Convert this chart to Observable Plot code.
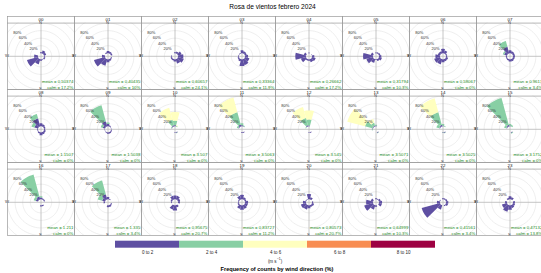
<!DOCTYPE html>
<html>
<head>
<meta charset="utf-8">
<script src="https://cdn.jsdelivr.net/npm/d3@7"></script>
<script src="https://cdn.jsdelivr.net/npm/@observablehq/plot@0.6"></script>
<style>
  html, body { margin: 0; padding: 0; background: #fff; overflow: hidden; width: 541px; height: 273px; }
  #wrap { position: relative; width: 541px; height: 273px; overflow: hidden; font-family: "Liberation Sans", Arial, sans-serif; }
  #title { position: absolute; left: 0; top: 2px; width: 545px; text-align: center; font-size: 6.6px; line-height: 9px; color: #000; }
  #main { position: absolute; left: 0; top: 0; }
  #legend { position: absolute; left: 0; top: 236px; }
  #unit { position: absolute; left: 0; top: 256px; width: 550px; text-align: center; font-size: 4.5px; line-height: 6px; color: #222; }
  #caption { position: absolute; left: 0; top: 264.5px; width: 554px; text-align: center; font-size: 5.6px; line-height: 8px; font-weight: bold; color: #000; }
</style>
</head>
<body>
<div id="wrap">
  <div id="main"></div>
  <div id="title">Rosa de vientos febrero 2024</div>
  <div id="legend"></div>
  <div id="unit">(m s<sup style="font-size:3.5px">−1</sup>)</div>
  <div id="caption">Frequency of counts by wind direction (%)</div>
</div>
<script>
// ---------------- data ----------------
const hours = ["00","01","02","03","04","05","06","07","08","09","10","11",
               "12","13","14","15","16","17","18","19","20","21","22","23"];
const directions = [0, 30, 60, 90, 120, 150, 180, 210, 240, 270, 300, 330];
const speedBins = ["0 to 2", "2 to 4", "4 to 6", "6 to 8", "8 to 10"];
const speedColors = ["#5E4FA2", "#88CFA4", "#FFFFBF", "#F88D52", "#9E0142"];

// frequency (%) per hour (rows) and direction (columns, order of `directions`)
const freq0to2 = [
  [3, 8, 6, 2, 4, 1.8, 4, 14, 30, 10, 0, 0],
  [6, 5, 4, 0, 3, 5, 8, 18, 30, 8, 0, 3],
  [3, 5, 10, 14, 16, 12, 6, 4, 4, 1.9, 0, 0],
  [8, 6, 5, 8, 12, 16, 18, 6, 4, 2, 1.1, 2],
  [1.8, 0, 1, 6, 10, 8, 4, 4, 14, 28, 6, 0],
  [2, 3, 4, 6, 8, 5, 1.7, 10, 18, 26, 6, 0],
  [12, 8, 3, 3, 6, 6, 8, 14, 16, 12, 6, 6],
  [8, 6, 5, 5, 5, 6, 6, 4, 3, 3, 8, 18],
  [8, 6, 4, 3, 5, 6, 8, 4, 2, 2, 10, 22],
  [6, 3, 1, 1, 3, 4, 4, 2, 1, 1, 6, 14],
  [3, 0, 0, 0, 0, 2, 1, 0, 0, 0, 1, 3],
  [3, 1, 0, 0, 0, 2, 2, 0, 0, 0, 2, 5],
  [2, 0, 0, 0, 0, 2, 1, 0, 0, 0, 0, 3],
  [2, 0, 0, 0, 0, 2, 0, 0, 0, 1, 2, 2],
  [2, 0, 0, 0, 0, 2, 1, 0, 0, 0, 2, 4],
  [2, 0, 0, 0, 0, 2, 0, 0, 0, 0, 2, 4],
  [5, 3, 3, 0, 0, 3, 3, 0, 0, 0, 6, 8],
  [6, 2, 0, 0, 3, 5, 5, 0, 0, 3.6, 8, 14],
  [10, 10, 6, 5, 0, 6, 14, 12, 0, 2.3, 4, 10],
  [12, 6, 4, 8, 8, 10, 12, 10, 4, 2, 2.8, 10],
  [14, 6, 0, 3, 6, 5, 8, 12, 14, 8, 2, 1.3],
  [2.7, 2, 5, 8, 8, 0, 4, 12, 24, 18, 6, 0],
  [3, 3, 4, 6, 6, 2.6, 0, 12, 50, 8, 2, 0],
  [8, 6, 0, 5, 6, 8, 12, 18, 14, 5, 0, 4.2]
];
const freq2to4 = [
  [0,0,0,0,0,0,0,0,0,0,0,0],
  [0,0,0,0,0,0,0,0,0,0,0,0],
  [0,0,0,0,0,0,0,0,0,0,0,0],
  [0,0,0,0,0,0,0,0,0,0,0,0],
  [0,0,0,0,0,0,0,0,0,0,0,0],
  [0,0,0,0,0,0,0,0,0,0,0,0],
  [0,0,0,0,0,0,0,0,0,0,0,0],
  [0, 0, 0, 0, 0, 0, 0, 0, 0, 0, 3.6, 16],
  [0, 0, 0, 0, 0, 0, 0, 0, 0, 0, 8, 12],
  [4, 0, 0, 0, 0, 0, 0, 0, 0, 0, 6, 44],
  [12, 2, 0, 0, 0, 1, 0, 0, 0, 0, 2, 15],
  [5, 2, 0, 0, 0, 0, 0, 0, 0, 0, 4, 34],
  [16, 0, 0, 0, 0, 0, 0, 0, 0, 0, 2, 20],
  [2, 0, 0, 0, 0, 1, 0, 0, 0, 2, 20, 8],
  [4, 2, 0, 0, 0, 1, 1, 0, 0, 0, 8, 35],
  [4, 4, 0, 0, 0, 2, 0, 0, 0, 0, 6, 74],
  [3, 0, 0, 0, 0, 0, 0, 0, 0, 0, 6, 60],
  [0, 0, 0, 0, 0, 0, 0, 0, 0, 0, 12, 38],
  [0,0,0,0,0,0,0,0,0,0,0,0],
  [0,0,0,0,0,0,0,0,0,0,0,0],
  [0,0,0,0,0,0,0,0,0,0,0,0],
  [0,0,0,0,0,0,0,0,0,0,0,0],
  [0,0,0,0,0,0,0,0,0,0,0,0],
  [0,0,0,0,0,0,0,0,0,0,0,0]
];
const freq4to6 = [
  [0,0,0,0,0,0,0,0,0,0,0,0],
  [0,0,0,0,0,0,0,0,0,0,0,0],
  [0,0,0,0,0,0,0,0,0,0,0,0],
  [0,0,0,0,0,0,0,0,0,0,0,0],
  [0,0,0,0,0,0,0,0,0,0,0,0],
  [0,0,0,0,0,0,0,0,0,0,0,0],
  [0,0,0,0,0,0,0,0,0,0,0,0],
  [0,0,0,0,0,0,0,0,0,0,0,0],
  [0,0,0,0,0,0,0,0,0,0,0,0],
  [0,0,0,0,0,0,0,0,0,0,0,0],
  [23, 2, 0, 0, 0, 0, 0, 0, 0, 0, 0, 33],
  [0, 0, 0, 0, 0, 0, 0, 0, 0, 0, 0, 40],
  [24, 0, 0, 0, 0, 0, 0, 0, 0, 0, 0, 30],
  [0, 0, 0, 0, 0, 0, 0, 0, 0, 0, 48, 10],
  [0, 0, 0, 0, 0, 0, 0, 0, 0, 0, 0, 38],
  [0,0,0,0,0,0,0,0,0,0,0,0],
  [0,0,0,0,0,0,0,0,0,0,0,0],
  [0,0,0,0,0,0,0,0,0,0,0,0],
  [0,0,0,0,0,0,0,0,0,0,0,0],
  [0,0,0,0,0,0,0,0,0,0,0,0],
  [0,0,0,0,0,0,0,0,0,0,0,0],
  [0,0,0,0,0,0,0,0,0,0,0,0],
  [0,0,0,0,0,0,0,0,0,0,0,0],
  [0,0,0,0,0,0,0,0,0,0,0,0]
];
const meanSpeed = [0.50374, 0.40435, 0.60657, 0.33364, 0.26662, 0.31794, 0.58067, 0.9613,
                   1.1507, 1.5038, 3.507, 3.5063, 3.545, 3.5071, 3.5025, 3.1752,
                   1.211, 1.335, 0.95675, 0.83727, 0.80573, 0.64999, 0.41561, 0.47132];
const calmPct = [17.2, 10, 24.1, 11.9, 17.2, 10.3, 0, 3.4,
                 0, 0, 0, 0, 0, 0, 0, 0,
                 0, 3.4, 20.7, 11.2, 20.7, 10.3, 3.4, 13.8];
const gridPct = [20, 40, 60, 80, 100, 120, 140, 160];
const labelPct = [20, 40, 60, 80];
const compass = [
  {label: "N", deg: 0}, {label: "E", deg: 90}, {label: "S", deg: 180}, {label: "W", deg: 270}
];

// ---------------- layout constants ----------------
const nCols = 8;
const maxFreq = 80;
const offset = 0.1 * maxFreq;            // hole in the middle (openair offset = 10%)
const D = maxFreq + offset;             // axis half-extent
const colPx = 67, rowPx = (236 - 15) / 3;
const S = 2 * D * (rowPx - colPx) / colPx; // strip height in data units
const angleWidth = 30;
const rad = Math.PI / 180;

// ---------------- derived tables ----------------
const speedTables = [freq0to2, freq2to4, freq4to6];
const panels = hours.map((h, i) => ({
  hour: h, col: i % nCols, row: Math.floor(i / nCols),
  mean: meanSpeed[i], calm: calmPct[i]
}));

const wedgeRows = [];
panels.forEach((p, i) => {
  directions.forEach((dir, j) => {
    let cum = 0;
    speedTables.forEach((tbl, k) => {
      const f = tbl[i][j];
      if (f > 0) {
        const r0 = offset + cum, r1 = offset + cum + f;
        const id = `${i}-${j}-${k}`;
        const a0 = dir - angleWidth / 2, a1 = dir + angleWidth / 2;
        const n = 8;
        for (let s = 0; s <= n; s++) {
          const a = (a0 + (a1 - a0) * s / n) * rad;
          wedgeRows.push({id, bin: speedBins[k], col: p.col, row: p.row, x: r1 * Math.sin(a), y: r1 * Math.cos(a)});
        }
        for (let s = n; s >= 0; s--) {
          const a = (a0 + (a1 - a0) * s / n) * rad;
          wedgeRows.push({id, bin: speedBins[k], col: p.col, row: p.row, x: r0 * Math.sin(a), y: r0 * Math.cos(a)});
        }
        cum += f;
      }
    });
  });
});

const circleRows = [];
gridPct.forEach(g => {
  for (let a = 0; a <= 360; a += 4) {
    const r = g + offset;
    circleRows.push({g, x: r * Math.sin(a * rad), y: r * Math.cos(a * rad)});
  }
});

const ang = 315 * rad;
const labelRows = labelPct.map(g => ({text: g + "%", x: (g + offset) * Math.sin(ang), y: (g + offset) * Math.cos(ang)}));

const fontFamily = "'Liberation Sans', Arial, sans-serif";

const main = Plot.plot({
  width: 7 + nCols * colPx,
  height: 236,
  marginTop: 15, marginLeft: 7, marginRight: 0, marginBottom: 0,
  fx: {axis: null, padding: 0, domain: d3.range(nCols)},
  fy: {axis: null, padding: 0, domain: d3.range(3)},
  x: {domain: [-D, D], axis: null},
  y: {domain: [-D, D + S], axis: null},
  color: {domain: speedBins, range: speedColors},
  style: {fontFamily, maxWidth: "none", background: "white", overflow: "visible"},
  marks: [
    Plot.line(circleRows, {x: "x", y: "y", z: "g", stroke: "#e3e3e3", strokeWidth: 0.6, clip: true}),
    Plot.rect([0], {x1: -D, x2: D, y1: D, y2: D + S, fill: "white"}),
    Plot.ruleX([0], {y1: -D, y2: D, stroke: "#b8b8b8", strokeWidth: 0.8}),
    Plot.ruleY([0], {x1: -D, x2: D, stroke: "#b8b8b8", strokeWidth: 0.8}),
    Plot.line(wedgeRows, {x: "x", y: "y", z: "id", fill: "bin", stroke: "none", fx: "col", fy: "row"}),
    Plot.text(labelRows, {x: "x", y: "y", text: "text", fontSize: 4, fill: "#333"}),
    Plot.text(compass, {
      x: d => d.deg === 90 ? D : d.deg === 270 ? -D : 0,
      y: d => d.deg === 0 ? D : d.deg === 180 ? -D : 0,
      text: "label", fontSize: 4.2, fill: "#333",
      dx: d => d.deg === 90 ? -4.5 : 1.5,
      dy: d => d.deg === 0 ? 3.4 : d.deg === 180 ? -2.3 : -1.6
    }),
    Plot.text(panels, {
      x: D, y: -D, fx: "col", fy: "row",
      text: d => `mean = ${d.mean}\ncalm = ${d.calm}%`,
      textAnchor: "end", lineAnchor: "bottom", lineHeight: 1.4,
      dx: -1.2, dy: -0.6, fontSize: 4.3, fill: "forestgreen"
    }),
    Plot.text(panels, {x: 0, y: D + S / 2, fx: "col", fy: "row", text: "hour", fontSize: 4.4, fill: "#111", dy: 0.2}),
    Plot.ruleY([D], {x1: -D, x2: D, stroke: "#9a9a9a", strokeWidth: 0.7}),
    Plot.frame({stroke: "#9a9a9a", strokeWidth: 0.7})
  ]
});
document.getElementById("main").appendChild(main);

const legend = Plot.plot({
  width: 541, height: 21,
  marginTop: 4.7, marginBottom: 9.3, marginLeft: 113, marginRight: 104,
  x: {domain: speedBins, padding: 0, label: null},
  color: {domain: speedBins, range: speedColors},
  style: {fontFamily, background: "transparent", overflow: "visible"},
  marks: [
    Plot.cell(speedBins, {x: d => d, fill: d => d}),
    Plot.axisX({tickSize: 0, tickPadding: 2.5, fontSize: 4.5, label: null, fill: "#222"})
  ]
});
document.getElementById("legend").appendChild(legend);
</script>
</body>
</html>
